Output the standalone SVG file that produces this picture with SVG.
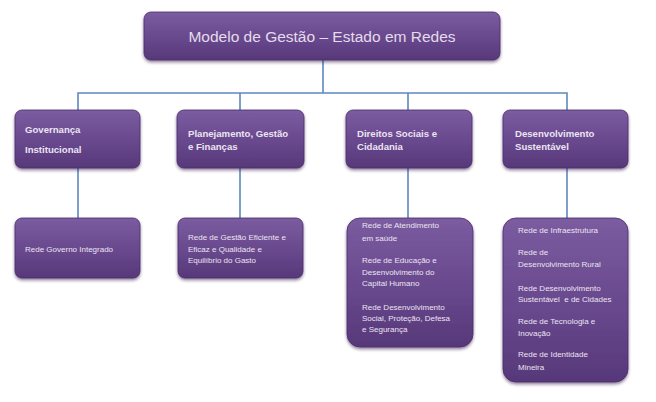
<svg xmlns="http://www.w3.org/2000/svg" width="656" height="402" viewBox="0 0 656 402">
<style>
.box{fill:url(#g);stroke:#4a2d68;stroke-width:0.8;filter:url(#sh)}
.t{font-family:"Liberation Sans",Arial,sans-serif;fill:#ece4f2}
.h{font-size:9.6px;font-weight:bold}
.s{font-size:8px}
.ttl{font-size:15.5px;fill:#e4dcea}
.c{fill:none;stroke:#5d88c0;stroke-width:1.6}
</style>
<defs>
<linearGradient id="g" x1="0" y1="0" x2="0" y2="1">
<stop offset="0" stop-color="#7b5ca0"/>
<stop offset="0.55" stop-color="#68488d"/>
<stop offset="1" stop-color="#573879"/>
</linearGradient>
<filter id="sh" x="-10%" y="-10%" width="120%" height="130%">
<feDropShadow dx="0" dy="2" stdDeviation="1.5" flood-color="#3a2450" flood-opacity="0.55"/>
</filter>
</defs>
<rect width="656" height="402" fill="#ffffff"/>
<g id="connectors">
<path class="c" d="M323 60 V93 M78 168 V93 H567 V168 M240 93 V110 M408 93 V110"/>
<path class="c" d="M78 168 V218 M240 168 V218 M408 168 V218 M567 168 V218"/>
</g>
<g id="root">
<rect class="box" x="144" y="12" width="356" height="48" rx="7"/>
<text class="t ttl" x="322" y="42" text-anchor="middle">Modelo de Gestão – Estado em Redes</text>
</g>
<g id="governanca">
<rect class="box" x="15" y="110" width="125" height="58" rx="7"/>
<text class="t h" x="25" y="133">Governança</text>
<text class="t h" x="25" y="153">Institucional</text>
</g>
<g id="planejamento">
<rect class="box" x="177" y="110" width="127" height="58" rx="7"/>
<text class="t h" x="188" y="137">Planejamento, Gestão</text>
<text class="t h" x="188" y="150">e Finanças</text>
</g>
<g id="direitos">
<rect class="box" x="346" y="110" width="126" height="58" rx="7"/>
<text class="t h" x="357" y="137">Direitos Sociais e</text>
<text class="t h" x="357" y="150">Cidadania</text>
</g>
<g id="desenvolvimento">
<rect class="box" x="503" y="110" width="125" height="58" rx="7"/>
<text class="t h" x="515" y="137">Desenvolvimento</text>
<text class="t h" x="515" y="150">Sustentável</text>
</g>
<g id="rede-governo">
<rect class="box" x="15" y="218" width="125" height="60" rx="7"/>
<text class="t s" x="25" y="252">Rede Governo Integrado</text>
</g>
<g id="rede-gestao">
<rect class="box" x="178" y="218" width="125" height="60" rx="7"/>
<text class="t s" x="188" y="240">Rede de Gestão Eficiente e</text>
<text class="t s" x="188" y="252">Eficaz e Qualidade e</text>
<text class="t s" x="188" y="263">Equilíbrio do Gasto</text>
</g>
<g id="redes-direitos">
<rect class="box" x="347" y="218" width="126" height="129" rx="13"/>
<text class="t s" x="362" y="228">Rede de Atendimento</text>
<text class="t s" x="362" y="241">em saúde</text>
<text class="t s" x="362" y="263">Rede de Educação e</text>
<text class="t s" x="362" y="275">Desenvolvimento do</text>
<text class="t s" x="362" y="286">Capital Humano</text>
<text class="t s" x="362" y="310">Rede Desenvolvimento</text>
<text class="t s" x="362" y="321">Social, Proteção, Defesa</text>
<text class="t s" x="362" y="332">e Segurança</text>
</g>
<g id="redes-desenvolvimento">
<rect class="box" x="503" y="218" width="125" height="164" rx="13"/>
<text class="t s" x="518" y="233">Rede de Infraestrutura</text>
<text class="t s" x="518" y="255">Rede de</text>
<text class="t s" x="518" y="267">Desenvolvimento Rural</text>
<text class="t s" x="518" y="291">Rede Desenvolvimento</text>
<text class="t s" x="518" y="302" xml:space="preserve">Sustentável  e de Cidades</text>
<text class="t s" x="518" y="324">Rede de Tecnologia e</text>
<text class="t s" x="518" y="336">Inovação</text>
<text class="t s" x="518" y="357">Rede de Identidade</text>
<text class="t s" x="518" y="370">Mineira</text>
</g>
</svg>
